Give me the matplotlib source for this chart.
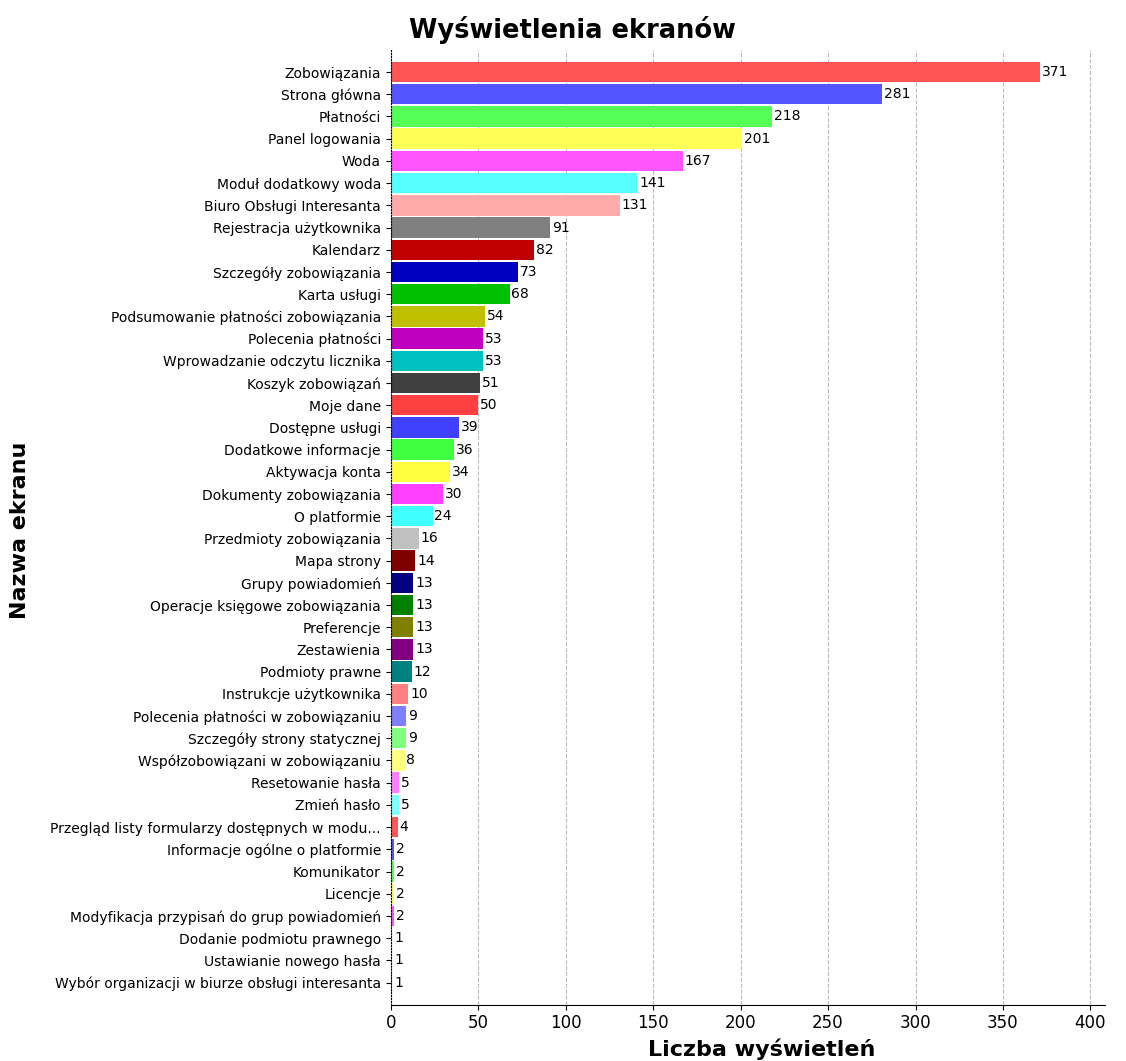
import matplotlib
matplotlib.use("Agg")
import matplotlib.pyplot as plt
import numpy as np

plt.rcParams['font.family'] = ['DejaVu Sans']

# dane: nazwy ekranow i liczba wyswietlen
ekrany = [
    "Zobowiązania", "Strona główna", "Płatności", "Panel logowania", "Woda",
    "Moduł dodatkowy woda", "Biuro Obsługi Interesanta", "Rejestracja użytkownika",
    "Kalendarz", "Szczegóły zobowiązania", "Karta usługi",
    "Podsumowanie płatności zobowiązania", "Polecenia płatności",
    "Wprowadzanie odczytu licznika", "Koszyk zobowiązań", "Moje dane",
    "Dostępne usługi", "Dodatkowe informacje", "Aktywacja konta",
    "Dokumenty zobowiązania", "O platformie", "Przedmioty zobowiązania",
    "Mapa strony", "Grupy powiadomień", "Operacje księgowe zobowiązania",
    "Preferencje", "Zestawienia", "Podmioty prawne", "Instrukcje użytkownika",
    "Polecenia płatności w zobowiązaniu", "Szczegóły strony statycznej",
    "Współzobowiązani w zobowiązaniu", "Resetowanie hasła", "Zmień hasło",
    "Przegląd listy formularzy dostępnych w modu...",
    "Informacje ogólne o platformie", "Komunikator", "Licencje",
    "Modyfikacja przypisań do grup powiadomień", "Dodanie podmiotu prawnego",
    "Ustawianie nowego hasła", "Wybór organizacji w biurze obsługi interesanta",
]
wyswietlenia = [371, 281, 218, 201, 167, 141, 131, 91, 82, 73, 68, 54, 53, 53,
                51, 50, 39, 36, 34, 30, 24, 16, 14, 13, 13, 13, 13, 12, 10, 9,
                9, 8, 5, 5, 4, 2, 2, 2, 2, 1, 1, 1]

paleta = [
    "#ff5555", "#5555ff", "#55ff55", "#ffff55", "#ff55ff", "#55ffff", "#ffaaaa",
    "#808080", "#c00000", "#0000c0", "#00c000", "#c0c000", "#c000c0", "#00c0c0",
    "#404040", "#ff4040", "#4040ff", "#40ff40", "#ffff40", "#ff40ff", "#40ffff",
    "#c0c0c0", "#800000", "#000080", "#008000", "#808000", "#800080", "#008080",
    "#ff8080", "#8080ff", "#80ff80", "#ffff80", "#ff80ff", "#80ffff",
]
kolory = [paleta[i % len(paleta)] for i in range(len(ekrany))]

fig = plt.figure(figsize=(11.26, 10.61), dpi=100)
ax = fig.add_axes([0.347, 0.053, 0.634, 0.90])

y = np.arange(len(ekrany))
bars = ax.barh(y, wyswietlenia, height=0.92, color=kolory)
for b, v in zip(bars, wyswietlenia):
    ax.text(b.get_width() + 1, b.get_y() + b.get_height() / 2, str(v),
            va='center', ha='left', fontsize=10)

ax.set_yticks(y)
ax.set_yticklabels(ekrany, fontsize=10)
ax.set_ylim(len(ekrany), -1)
ax.set_xlim(0, max(wyswietlenia) * 1.1)
ax.set_xticks(np.arange(0, 401, 50))
ax.tick_params(axis='x', labelsize=12)

ax.grid(axis='x', linestyle='--', color='#bbbbbb')
ax.set_axisbelow(True)
ax.spines['top'].set_visible(False)
ax.spines['right'].set_visible(False)
ax.spines['left'].set_linestyle(':')

fig.text(0.508, 0.972, "Wyświetlenia ekranów", ha='center', va='center',
         fontsize=18.5, fontweight='bold')
ax.set_xlabel("Liczba wyświetleń", fontsize=16, fontweight='bold')
ax.xaxis.set_label_coords(0.52, -0.035)
fig.text(0.018, 0.5, "Nazwa ekranu", rotation=90, va='center', ha='center',
         fontsize=16, fontweight='bold')

fig.savefig("out.png", dpi=100)
